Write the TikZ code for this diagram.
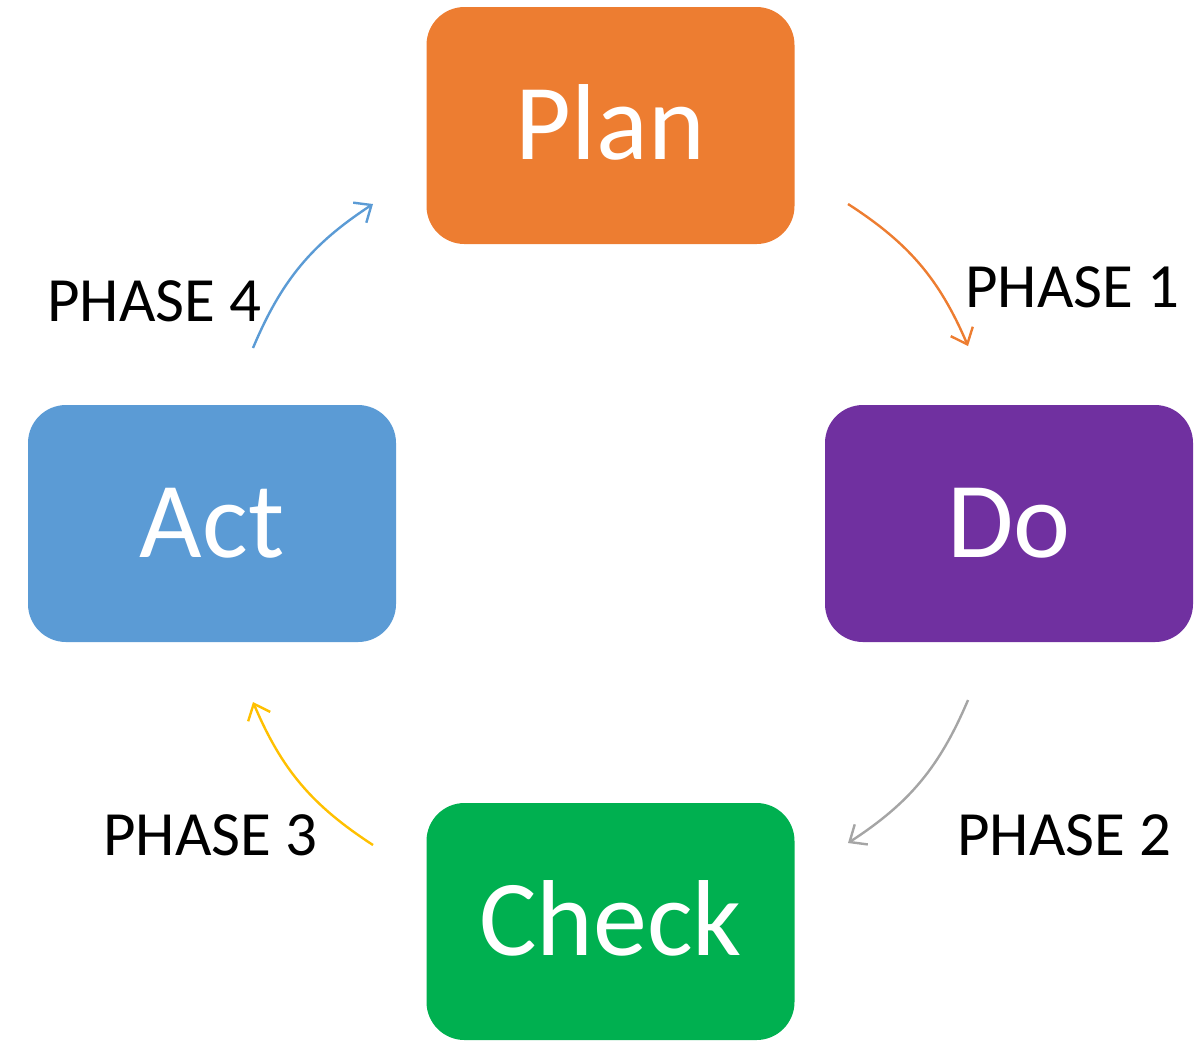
\documentclass[tikz,border=0pt]{standalone}
\usepackage{fontspec}
\setmainfont{Carlito}
\usetikzlibrary{arrows.meta}
\definecolor{cplan}{HTML}{ED7D31}
\definecolor{cdo}{HTML}{7030A0}
\definecolor{ccheck}{HTML}{00B050}
\definecolor{cact}{HTML}{5B9BD5}
\definecolor{cgray}{HTML}{A5A5A5}
\definecolor{cyel}{HTML}{FFC000}
\begin{document}
\begin{tikzpicture}[x=0.5pt,y=-0.5pt,
  stagebox/.style={rounded corners=19pt, minimum width=184pt, minimum height=118.5pt, inner sep=0pt, text=white, font=\fontsize{54}{60}\selectfont},
  stagetext/.style={inner sep=0pt, text=white, font=\fontsize{54}{60}\selectfont},
  phaselabel/.style={inner sep=0pt, anchor=base west, font=\fontsize{31.5}{36}\selectfont},
  cyc/.style={line width=1.2pt, -{Straight Barb[length=7pt,width=12pt,line width=1.2pt]}, bend left=17}]
\useasboundingbox (0,0) rectangle (1194,1041);
\node[stagebox, fill=cplan] (plan) at (610.5,125.5) {};
\node[stagebox, fill=cdo] (do) at (1009,523.5) {};
\node[stagebox, fill=ccheck] (check) at (610.5,921.5) {};
\node[stagebox, fill=cact] (act) at (212,523.5) {};
\node[stagetext, anchor=base] (plant) at ([yshift=-17pt]plan.center) {Plan};
\node[stagetext, anchor=base] (dot) at ([yshift=-17pt]do.center) {Do};
\node[stagetext, anchor=base] (checkt) at ([yshift=-17pt]check.center) {Check};
\node[stagetext, anchor=base] (actt) at ([yshift=-17pt]act.center) {Act};
\node[phaselabel] (p1) at (965,307) {PHASE 1};
\node[phaselabel] (p2) at (957,855) {PHASE 2};
\node[phaselabel] (p3) at (103,855) {PHASE 3};
\node[phaselabel] (p4) at (47,321) {PHASE 4};
\coordinate (a1s) at (848,204); \coordinate (a1e) at (968,346);
\coordinate (a2s) at (968,700); \coordinate (a2e) at (848,843);
\coordinate (a3s) at (373,845); \coordinate (a3e) at (253,702);
\coordinate (a4s) at (253,348); \coordinate (a4e) at (373,204);
\draw[cyc, cplan] (a1s) to (a1e);
\draw[cyc, cgray] (a2s) to (a2e);
\draw[cyc, cyel] (a3s) to (a3e);
\draw[cyc, cact] (a4s) to (a4e);
\end{tikzpicture}
\end{document}
